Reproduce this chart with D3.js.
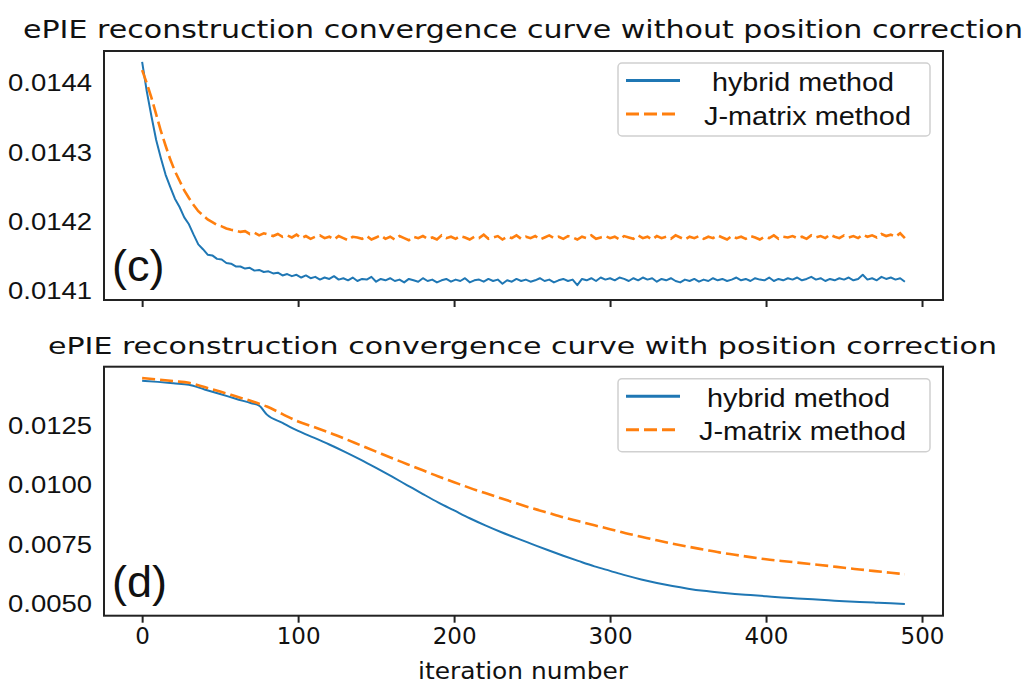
<!DOCTYPE html>
<html><head><meta charset="utf-8">
<script src="https://cdn.jsdelivr.net/npm/d3@7"></script>
<style>body{margin:0;background:#fff} svg{display:block}</style>
</head>
<body><svg id="chart" width="1027" height="683"></svg>
<script>
// ---------- DATA ----------
const iterTop = [
  0,3,6,9,12,15,18,21,24,27,
  30,33,36,39,42,45,48,51,54,57,
  60,63,66,69,72,75,78,81,84,87,
  90,93,96,99,102,105,108,111,114,117,
  120,123,126,129,132,135,138,141,144,147,
  150,153,156,159,162,165,168,171,174,177,
  180,183,186,189,192,195,198,201,204,207,
  210,213,216,219,222,225,228,231,234,237,
  240,243,246,249,252,255,258,261,264,267,
  270,273,276,279,282,285,288,291,294,297,
  300,303,306,309,312,315,318,321,324,327,
  330,333,336,339,342,345,348,351,354,357,
  360,363,366,369,372,375,378,381,384,387,
  390,393,396,399,402,405,408,411,414,417,
  420,423,426,429,432,435,438,441,444,447,
  450,453,456,459,462,465,468,471,474,477,
  480,483,486,489
];
const hybridTop = [
  0.014431,0.014388,0.014352,0.014318,0.014292,0.014268,0.014250,0.014233,0.014221,0.014206,
  0.014196,0.014181,0.014167,0.014160,0.014152,0.014151,0.014146,0.014145,0.014140,0.014139,
  0.014135,0.014135,0.014132,0.014133,0.014129,0.014130,0.014127,0.014128,0.014125,0.014126,
  0.014122,0.014124,0.014121,0.014123,0.014119,0.014122,0.014118,0.014120,0.014116,0.014119,
  0.014117,0.014121,0.014116,0.014118,0.014115,0.014119,0.014114,0.014117,0.014116,0.014120,
  0.014113,0.014117,0.014115,0.014118,0.014114,0.014116,0.014112,0.014117,0.014115,0.014113,
  0.014118,0.014114,0.014116,0.014112,0.014115,0.014117,0.014113,0.014116,0.014114,0.014118,
  0.014112,0.014115,0.014116,0.014113,0.014117,0.014114,0.014116,0.014110,0.014115,0.014113,
  0.014117,0.014114,0.014116,0.014113,0.014115,0.014118,0.014114,0.014116,0.014112,0.014115,
  0.014117,0.014114,0.014116,0.014108,0.014117,0.014115,0.014118,0.014114,0.014119,0.014116,
  0.014118,0.014115,0.014119,0.014117,0.014114,0.014118,0.014115,0.014119,0.014116,0.014118,
  0.014113,0.014117,0.014115,0.014118,0.014114,0.014112,0.014116,0.014114,0.014117,0.014113,
  0.014116,0.014114,0.014118,0.014115,0.014117,0.014114,0.014116,0.014119,0.014115,0.014117,
  0.014114,0.014118,0.014116,0.014115,0.014119,0.014114,0.014117,0.014115,0.014118,0.014116,
  0.014119,0.014115,0.014117,0.014120,0.014116,0.014118,0.014114,0.014117,0.014115,0.014118,
  0.014116,0.014119,0.014115,0.014117,0.014123,0.014116,0.014118,0.014115,0.014120,0.014117,
  0.014119,0.014116,0.014118,0.014113
];
const jmatrixTop = [
  0.014419,0.014400,0.014379,0.014355,0.014331,0.014310,0.014290,0.014273,0.014259,0.014245,
  0.014234,0.014224,0.014215,0.014209,0.014203,0.014199,0.014195,0.014193,0.014190,0.014188,
  0.014187,0.014185,0.014186,0.014182,0.014184,0.014180,0.014183,0.014181,0.014179,0.014182,
  0.014178,0.014180,0.014177,0.014181,0.014176,0.014179,0.014175,0.014178,0.014180,0.014176,
  0.014178,0.014174,0.014179,0.014176,0.014173,0.014178,0.014177,0.014175,0.014179,0.014174,
  0.014177,0.014180,0.014175,0.014178,0.014174,0.014179,0.014176,0.014173,0.014178,0.014176,
  0.014179,0.014175,0.014177,0.014174,0.014180,0.014176,0.014178,0.014175,0.014179,0.014177,
  0.014174,0.014178,0.014176,0.014181,0.014175,0.014177,0.014179,0.014174,0.014178,0.014176,
  0.014180,0.014175,0.014178,0.014176,0.014179,0.014174,0.014177,0.014180,0.014176,0.014178,
  0.014175,0.014179,0.014177,0.014174,0.014178,0.014176,0.014180,0.014175,0.014177,0.014179,
  0.014176,0.014178,0.014174,0.014179,0.014177,0.014175,0.014180,0.014176,0.014178,0.014174,
  0.014179,0.014176,0.014178,0.014175,0.014180,0.014177,0.014174,0.014178,0.014176,0.014179,
  0.014175,0.014178,0.014176,0.014180,0.014177,0.014174,0.014179,0.014176,0.014178,0.014175,
  0.014179,0.014177,0.014174,0.014178,0.014176,0.014180,0.014175,0.014178,0.014177,0.014179,
  0.014176,0.014178,0.014175,0.014180,0.014177,0.014179,0.014176,0.014181,0.014178,0.014176,
  0.014180,0.014177,0.014179,0.014176,0.014181,0.014178,0.014180,0.014177,0.014182,0.014179,
  0.014181,0.014178,0.014183,0.014176
];
const iterBottom = [
  0,10,20,30,40,50,60,70,75,80,90,
  100,110,120,130,140,150,160,170,180,190,
  200,210,220,230,240,250,260,270,280,290,
  300,310,320,330,340,350,360,370,380,390,
  400,410,420,430,440,450,460,470,480,489
];
const hybridBottom = [
  0.01441,0.01436,0.01430,0.01424,0.01404,0.01385,0.01365,0.01346,0.01336,0.01298,0.01263,
  0.01229,0.01201,0.01172,0.01141,0.01108,0.01073,0.01037,0.01000,0.00963,0.00927,
  0.00894,0.00861,0.00831,0.00803,0.00777,0.00752,0.00727,0.00703,0.00680,0.00658,
  0.00639,0.00620,0.00603,0.00588,0.00575,0.00564,0.00555,0.00548,0.00542,0.00537,
  0.00532,0.00527,0.00523,0.00519,0.00515,0.00511,0.00508,0.00505,0.00502,0.00499
];
const jmatrixBottom = [
  0.01452,0.01446,0.01439,0.01432,0.01414,0.01395,0.01375,0.01355,0.01344,0.01332,0.01300,
  0.01269,0.01246,0.01222,0.01196,0.01169,0.01142,0.01115,0.01089,0.01063,0.01037,
  0.01013,0.00989,0.00967,0.00945,0.00924,0.00903,0.00884,0.00865,0.00848,0.00831,
  0.00815,0.00798,0.00783,0.00768,0.00754,0.00741,0.00729,0.00717,0.00707,0.00697,
  0.00688,0.00681,0.00674,0.00667,0.00660,0.00652,0.00645,0.00638,0.00631,0.00625
];
const xTickValues = [0,100,200,300,400,500];
const yTicksTop = [0.0141,0.0142,0.0143,0.0144];
const yTicksBottom = [0.0050,0.0075,0.0100,0.0125];
const seriesNames = ["hybrid method","J-matrix method"];
const titles = ["ePIE reconstruction convergence curve without position correction",
                "ePIE reconstruction convergence curve with position correction"];
const panelLabels = ["(c)","(d)"];
const xLabel = "iteration number";

// ---------- DRAWING ----------
const BLUE = "#1f77b4", ORANGE = "#ff7f0e";
const svg = d3.select("#chart");
const X0 = 104, X1 = 943;
const x = d3.scaleLinear().domain([-24.45, 513.45]).range([X0, X1]);

const panels = [
  {top:51, bottom:300, domain:[0.0140865,0.0144467], yTicks:yTicksTop,
   iters:iterTop, hybrid:hybridTop, jm:jmatrixTop, showX:false,
   title:titles[0], titleY:38, titleFs:25, titleLen:1000, titleX:23,
   label:panelLabels[0], labelY:281,
   legText:[{x:712,len:182},{x:704,len:207}]},
  {top:366.7, bottom:615.7, domain:[0.0045,0.0150], yTicks:yTicksBottom,
   iters:iterBottom, hybrid:hybridBottom, jm:jmatrixBottom, showX:true,
   title:titles[1], titleY:354, titleFs:23, titleLen:949, titleX:48,
   label:panelLabels[1], labelY:597,
   legText:[{x:707,len:183},{x:699,len:207}]}
];

panels.forEach((p, i) => {
  const y = d3.scaleLinear().domain(p.domain).range([p.bottom, p.top]);
  const g = svg.append("g");

  g.append("text").attr("x", p.titleX).attr("y", p.titleY)
    .attr("font-family", "DejaVu Sans").attr("font-size", p.titleFs)
    .attr("fill", "#111").attr("textLength", p.titleLen)
    .attr("lengthAdjust", "spacingAndGlyphs").text(p.title);

  const cid = "clip" + i;
  svg.append("clipPath").attr("id", cid).append("rect")
    .attr("x", X0).attr("y", p.top).attr("width", X1 - X0).attr("height", p.bottom - p.top);

  const pts = (vals) => p.iters.map((it, k) => [it, vals[k]]);
  const line = d3.line().x(d => x(d[0])).y(d => y(d[1]))
    .curve(p.showX ? d3.curveMonotoneX : d3.curveLinear);
  const lg = g.append("g").attr("clip-path", `url(#${cid})`);
  lg.append("path").datum(pts(p.hybrid)).attr("d", line)
    .attr("fill", "none").attr("stroke", BLUE).attr("stroke-width", 2)
    .attr("stroke-linejoin", "round");
  lg.append("path").datum(pts(p.jm)).attr("d", line)
    .attr("fill", "none").attr("stroke", ORANGE).attr("stroke-width", 2.6)
    .attr("stroke-dasharray", "13,5");

  const xa = d3.axisBottom(x).tickValues(xTickValues).tickSize(7).tickPadding(5)
    .tickFormat(p.showX ? d3.format("d") : () => "");
  const xg = g.append("g").attr("transform", `translate(0,${p.bottom})`).call(xa);
  xg.select(".domain").remove();
  xg.selectAll(".tick line").attr("stroke", "#222").attr("stroke-width", 2);
  xg.selectAll(".tick text").attr("font-family", "DejaVu Sans").attr("font-size", 23)
    .attr("fill", "#111");

  const ya = d3.axisLeft(y).tickValues(p.yTicks).tickSize(0).tickPadding(12)
    .tickFormat(d3.format(".4f"));
  const yg = g.append("g").attr("transform", `translate(${X0},0)`).call(ya);
  yg.select(".domain").remove();
  yg.selectAll(".tick text").attr("font-family", "Liberation Sans, Arial, sans-serif")
    .attr("font-size", 24).attr("fill", "#111")
    .attr("textLength", 84).attr("lengthAdjust", "spacingAndGlyphs");

  g.append("rect").attr("x", X0).attr("y", p.top).attr("width", X1 - X0)
    .attr("height", p.bottom - p.top).attr("fill", "none")
    .attr("stroke", "#222").attr("stroke-width", 2);

  g.append("text").attr("x", 112).attr("y", p.labelY)
    .attr("font-family", "Liberation Sans, Arial, sans-serif").attr("font-size", 45)
    .attr("fill", "#111").text(p.label);

  const lx = 618, ly = p.top + 12;
  g.append("rect").attr("x", lx).attr("y", ly).attr("width", 312).attr("height", 73)
    .attr("rx", 4).attr("fill", "#fff").attr("stroke", "#d0d0d0").attr("stroke-width", 1.5);
  const legendItems = [
    {name: seriesNames[0], color: BLUE, dash: null, dy: 17.5, ty: 28},
    {name: seriesNames[1], color: ORANGE, dash: "13,5", dy: 51, ty: 61.5}
  ];
  legendItems.forEach((it, k) => {
    g.append("line").attr("x1", 626).attr("x2", 680)
      .attr("y1", ly + it.dy).attr("y2", ly + it.dy)
      .attr("stroke", it.color).attr("stroke-width", 3)
      .attr("stroke-dasharray", it.dash);
    g.append("text").attr("x", p.legText[k].x).attr("y", ly + it.ty)
      .attr("font-family", "Liberation Sans, Arial, sans-serif").attr("font-size", 26)
      .attr("fill", "#111").attr("textLength", p.legText[k].len)
      .attr("lengthAdjust", "spacingAndGlyphs").text(it.name);
  });
});

svg.append("text").attr("x", 418).attr("y", 679)
  .attr("font-family", "DejaVu Sans").attr("font-size", 23).attr("fill", "#111")
  .attr("textLength", 210).attr("lengthAdjust", "spacingAndGlyphs").text(xLabel);
</script>
</body></html>
